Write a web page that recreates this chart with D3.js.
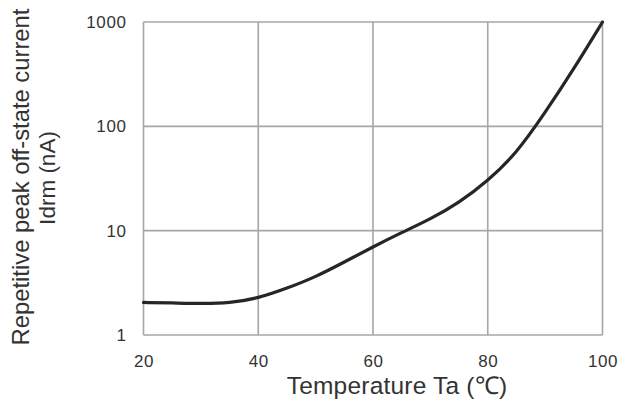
<!DOCTYPE html>
<html><head><meta charset="utf-8">
<script src="https://cdn.jsdelivr.net/npm/d3@7"></script>
<style>body{margin:0;background:#fff}</style>
</head><body>
<svg id="c" width="621" height="405"></svg>
<script>
const temps = [20,25,30,35,40,45,50,55,60,65,70,75,80,85,90,95,100];
const idrm  = [2.05,2.03,2.0,2.02,2.25,2.8,3.6,5.0,7.0,9.6,12.9,18.5,30,55,135,355,1000];
const xTicks = [20,40,60,80,100];
const yTicks = [1,10,100,1000];
const xTitle = "Temperature Ta (℃)";
const yTitle1 = "Repetitive peak off-state current";
const yTitle2 = "Idrm (nA)";

const svg = d3.select("#c");
const m = {l:143.5, r:602.5, t:22, b:335};
const x = d3.scaleLinear().domain([20,100]).range([m.l,m.r]);
const y = d3.scaleLog().domain([1,1000]).range([m.b,m.t]);
const font = "'Liberation Sans', Arial, sans-serif";

const g = svg.append("g");
g.selectAll(".gx").data(xTicks).enter().append("line")
  .attr("x1",d=>x(d)).attr("x2",d=>x(d)).attr("y1",m.t).attr("y2",m.b)
  .attr("stroke","#a6a6a6").attr("stroke-width",1.6);
g.selectAll(".gy").data(yTicks).enter().append("line")
  .attr("y1",d=>y(d)).attr("y2",d=>y(d)).attr("x1",m.l).attr("x2",m.r)
  .attr("stroke","#a6a6a6").attr("stroke-width",1.6);

const xa = svg.append("g").attr("transform",`translate(0,${m.b})`)
  .call(d3.axisBottom(x).tickValues(xTicks).tickSize(0).tickPadding(20).tickFormat(d3.format("d")));
const ya = svg.append("g").attr("transform",`translate(${m.l},0)`)
  .call(d3.axisLeft(y).tickValues(yTicks).tickSize(0).tickPadding(17).tickFormat(d3.format("d")));
[xa,ya].forEach(a=>{
  a.select(".domain").remove();
  a.selectAll("text").attr("font-family",font).attr("font-size",17).attr("letter-spacing",0.6).attr("fill","#333");
});

const line = d3.line().x((d,i)=>x(temps[i])).y((d,i)=>y(idrm[i])).curve(d3.curveBasis);
svg.append("path").datum(idrm).attr("d",line)
  .attr("fill","none").attr("stroke","#262626").attr("stroke-width",3.2)
  .attr("stroke-linecap","round");

svg.append("text").attr("x",397).attr("y",394).attr("text-anchor","middle")
  .attr("font-family",font).attr("font-size",24.5).attr("letter-spacing",0.2).attr("fill","#333").text(xTitle);
svg.append("text").attr("transform","translate(29,177) rotate(-90)").attr("text-anchor","middle")
  .attr("font-family",font).attr("font-size",23.8).attr("fill","#333").text(yTitle1);
svg.append("text").attr("transform","translate(55,178) rotate(-90)").attr("text-anchor","middle")
  .attr("font-family",font).attr("font-size",22.5).attr("fill","#333").text(yTitle2);
</script>
</body></html>
